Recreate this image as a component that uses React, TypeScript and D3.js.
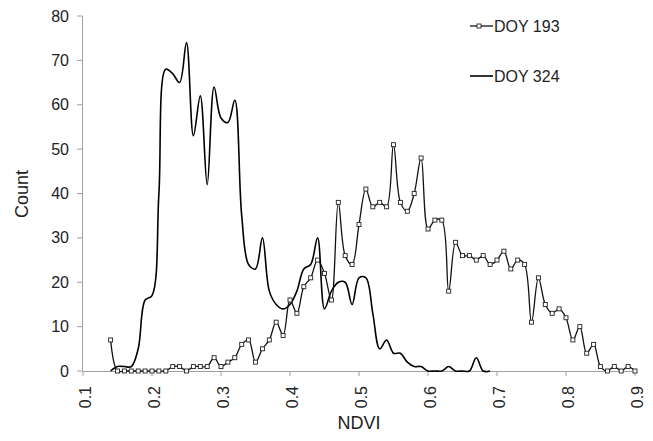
import React from "react";
import * as d3 from "d3";

const ndvi193: number[] = d3.range(14, 91).map((i) => i / 100);
const count193: number[] = [
  7, 0, 0, 0, 0, 0, 0, 0, 0, 1, 1, 0, 1, 1, 1, 3, 1, 2, 3, 6, 7, 2, 5, 7, 11, 8,
  16, 13, 19, 21, 25, 22, 16, 38, 26, 24, 33, 41, 37, 38, 37, 51, 38, 36, 40,
  48, 32, 34, 34, 18, 29, 26, 26, 25, 26, 24, 25, 27, 23, 25, 24, 11, 21, 15,
  13, 14, 12, 7, 10, 4, 6, 1, 0, 1, 0, 1, 0,
];
const ndvi324: number[] = d3.range(14, 70).map((i) => i / 100);
const count324: number[] = [
  0, 1, 1, 1, 5, 16, 17, 40, 68, 67, 65, 74, 53, 62, 42, 64, 57, 56, 61, 35, 24,
  23, 30, 18, 15, 14, 15, 18, 23, 24, 30, 14, 18, 20, 20, 15, 21, 21, 13, 5, 7,
  4, 4, 2, 1, 1, 0, 0, 0, 1, 0, 0, 0, 3, 0, 0,
];
const xTicks: number[] = [0.1, 0.2, 0.3, 0.4, 0.5, 0.6, 0.7, 0.8, 0.9];
const yTicks: number[] = [0, 10, 20, 30, 40, 50, 60, 70, 80];
const seriesNames: string[] = ["DOY 193", "DOY 324"];

const W = 653;
const H = 441;
const FONT = "'Liberation Sans', Arial, sans-serif";

export default function App() {
  const x = d3.scaleLinear().domain([0.1, 0.9]).range([83, 635]);
  const y = d3.scaleLinear().domain([0, 80]).range([371, 16]);
  const line = d3
    .line<[number, number]>()
    .x((d) => x(d[0]))
    .y((d) => y(d[1]))
    .curve(d3.curveCatmullRom.alpha(0.5));
  const d193 = ndvi193.map((v, i) => [v, count193[i]] as [number, number]);
  const d324 = ndvi324.map((v, i) => [v, count324[i]] as [number, number]);
  const axisColor = "#a0a0a0";
  const textColor = "#222";
  const ms = 4;
  return (
    <svg
      width={W}
      height={H}
      style={{ position: "absolute", left: 0, top: 0, background: "#fff" }}
      fontFamily={FONT}
    >
      <rect x={0} y={0} width={W} height={H} fill="#fff" />
      {/* y axis */}
      <line x1={82.5} x2={82.5} y1={y(80)} y2={y(0)} stroke={axisColor} strokeWidth={1} />
      {yTicks.map((t) => (
        <g key={"y" + t}>
          <line x1={77} x2={82.5} y1={y(t)} y2={y(t)} stroke={axisColor} strokeWidth={1} />
          <text x={69} y={y(t)} dy="0.35em" textAnchor="end" fontSize={16} fill={textColor}>
            {t}
          </text>
        </g>
      ))}
      {/* x axis */}
      <line x1={82.5} x2={x(0.9)} y1={371.5} y2={371.5} stroke={axisColor} strokeWidth={1} />
      {xTicks.map((t) => (
        <g key={"x" + t}>
          <line x1={x(t)} x2={x(t)} y1={371.5} y2={376} stroke={axisColor} strokeWidth={1} />
          <text
            transform={`translate(${x(t) + 2},${386}) rotate(-90)`}
            dy="0.35em"
            textAnchor="end"
            fontSize={16}
            fill={textColor}
          >
            {t.toFixed(1)}
          </text>
        </g>
      ))}
      {/* axis titles */}
      <text x={359} y={429} textAnchor="middle" fontSize={18} fill={textColor}>
        NDVI
      </text>
      <text
        transform={`translate(22,194) rotate(-90)`}
        dy="0.35em"
        textAnchor="middle"
        fontSize={18}
        fill={textColor}
      >
        Count
      </text>
      {/* series */}
      <path d={line(d324) || ""} fill="none" stroke="#000" strokeWidth={1.6} />
      <path d={line(d193) || ""} fill="none" stroke="#111" strokeWidth={1.3} />
      {d193.map((d, i) => (
        <rect
          key={"m" + i}
          x={x(d[0]) - ms / 2}
          y={y(d[1]) - ms / 2}
          width={ms}
          height={ms}
          fill="#fff"
          stroke="#222"
          strokeWidth={0.9}
        />
      ))}
      {/* legend */}
      <line x1={470} x2={493} y1={26} y2={26} stroke="#111" strokeWidth={1.3} />
      <rect x={479 - ms / 2} y={26 - ms / 2} width={ms} height={ms} fill="#fff" stroke="#222" strokeWidth={0.9} />
      <text x={494} y={26} dy="0.35em" fontSize={16} fill={textColor}>
        {seriesNames[0]}
      </text>
      <line x1={470} x2={493} y1={76} y2={76} stroke="#000" strokeWidth={1.6} />
      <text x={494} y={76} dy="0.35em" fontSize={16} fill={textColor}>
        {seriesNames[1]}
      </text>
    </svg>
  );
}
